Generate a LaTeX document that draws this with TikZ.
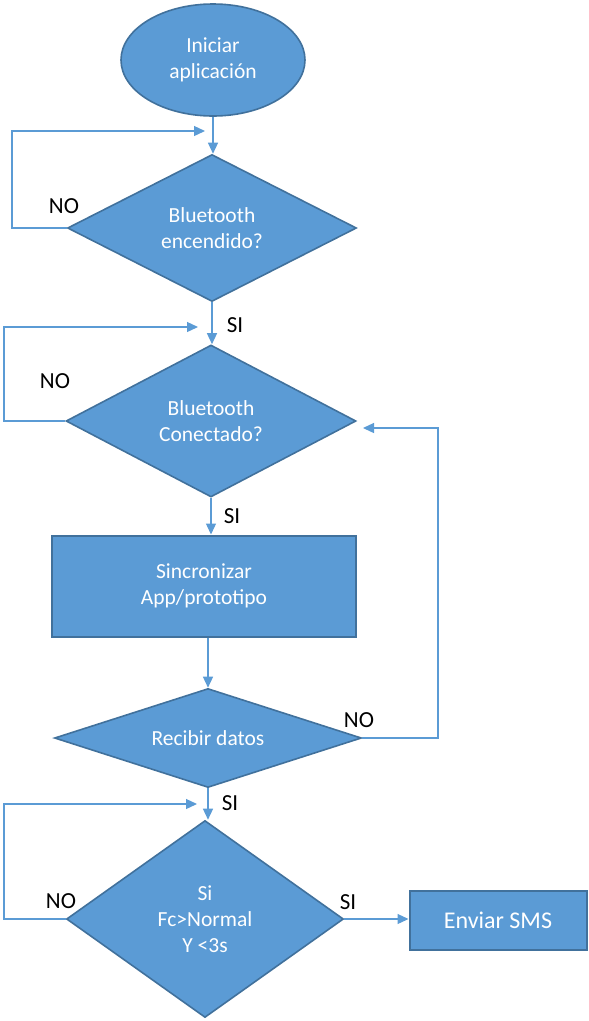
\documentclass[tikz,border=0pt]{standalone}
\usepackage{fontspec}
\setmainfont{Carlito}
\usetikzlibrary{shapes.geometric,arrows.meta}

\definecolor{boxblue}{HTML}{5B9BD5}
\definecolor{edgeblue}{HTML}{41719C}

\begin{document}
\begin{tikzpicture}[x=1pt,y=-1pt,
    shape text/.style={text=white,font=\fontsize{21.5}{26}\selectfont,align=center},
    startstop/.style={ellipse,draw=edgeblue,line width=1.6pt,fill=boxblue,shape text,
      minimum width=184pt,minimum height=112pt,inner sep=0pt},
    decision/.style={diamond,draw=edgeblue,line width=1.6pt,fill=boxblue,shape text,
      aspect=2,inner sep=0pt},
    process/.style={rectangle,draw=edgeblue,line width=2pt,fill=boxblue,shape text,inner sep=0pt},
    answer/.style={text=black,font=\fontsize{23}{27}\selectfont,inner sep=0pt},
    flow/.style={draw=boxblue,line width=1.3pt}]
  \useasboundingbox (0,0) rectangle (589,1021);
  \draw
    (213,60) node[startstop] (start){Iniciar\\aplicación}
    (212,228) node[decision,minimum width=289pt,minimum height=147pt] (bton){Bluetooth\\encendido?}
    (211,421) node[decision,minimum width=290pt,minimum height=152pt] (btcon){Bluetooth\\Conectado?}
    (204,586) node[process,minimum width=304pt,minimum height=101pt] (sync){Sincronizar\\App/prototipo}
    (208,738) node[decision,minimum width=307pt,minimum height=99pt] (recv){Recibir datos}
    (205,919) node[decision,minimum width=277pt,minimum height=197pt] (check){Si\\Fc>Normal\\Y <3s}
    (498,920) node[process,minimum width=177pt,minimum height=59pt,
      font=\fontsize{24}{28}\selectfont] (sms){Enviar SMS};
  % answer labels
  \draw
    (64,206) node[answer] (no1){NO}
    (235,325) node[answer] (si1){SI}
    (55,381) node[answer] (no2){NO}
    (232,516) node[answer] (si2){SI}
    (359,720) node[answer] (no3){NO}
    (230,803) node[answer] (si3){SI}
    (61,901) node[answer] (no4){NO}
    (348,902) node[answer] (si4){SI};
  % loop corners
  \coordinate (l1) at (12,131);
  \coordinate (e1) at (205,131);
  \coordinate (l2) at (4,327);
  \coordinate (e2) at (198,327);
  \coordinate (r3) at (438,428);
  \coordinate (e3) at (363,428);
  \coordinate (l4) at (4,804);
  \coordinate (e4) at (197,804);
  \begin{scope}[flow,>={Triangle[length=11pt,width=10pt]},->]
    \draw (start) to (start |- bton.north);
    \draw (bton) to (bton |- btcon.north);
    \draw (btcon) to (btcon |- sync.north);
    \draw (recv |- sync.south) to (recv);
    \draw (recv) to (recv.south |- check.north);
    \draw (check.east) to (check.east -| sms.west);
    \draw (bton.west) -| (l1) -- (e1);
    \draw (btcon.west) -| (l2) -- (e2);
    \draw (recv.east) -| (r3) -- (e3);
    \draw (check.west) -| (l4) -- (e4);
  \end{scope}
\end{tikzpicture}
\end{document}
